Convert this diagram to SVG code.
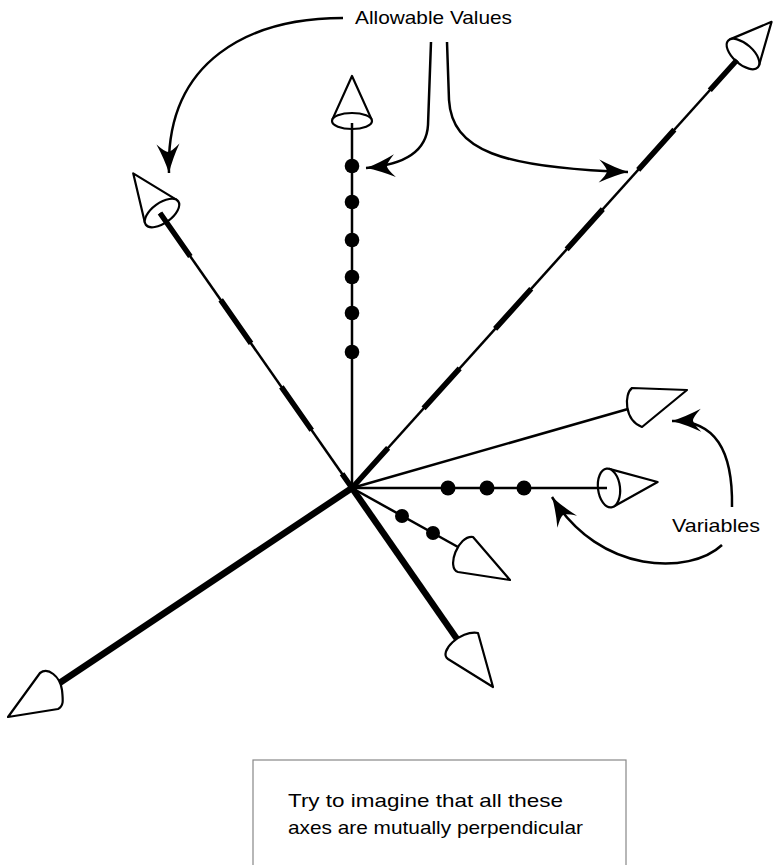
<svg xmlns="http://www.w3.org/2000/svg" width="773" height="865" viewBox="0 0 773 865">
<style>
.cone{fill:#fff;stroke:#000;stroke-width:2.2;stroke-linejoin:round}
.thin{fill:none;stroke:#000;stroke-width:2.5;stroke-linecap:butt}
.thick{fill:none;stroke:#000;stroke-width:6.5;stroke-linecap:butt}
.dash{fill:none;stroke:#000;stroke-width:5.5}
.dot{fill:#000}
.curve{fill:none;stroke:#000;stroke-width:2.5;marker-end:url(#ah)}
.lbl{font-family:"Liberation Sans",Arial,sans-serif;font-size:19px;fill:#000}
</style>
<defs>
<marker id="ah" markerUnits="userSpaceOnUse" markerWidth="36" markerHeight="30" viewBox="-32 -15 34 30" refX="0" refY="0" orient="auto">
<path d="M0,0 Q-14,-4 -29,-11.5 Q-21,-3 -21,0 Q-21,3 -29,11.5 Q-14,4 0,0 Z" fill="#000"/>
</marker>
</defs>
<rect width="773" height="865" fill="#fff"/>

<g id="axis-up">
<g transform="translate(352,121)">
<path class="cone" d="M-19.7,-1.4 L0,-45 L19.7,-1.4"/>
<ellipse class="cone" cx="0" cy="0" rx="20" ry="8"/>
</g>
<line class="thin" x1="352" y1="488" x2="352" y2="123"/>
<circle class="dot" cx="352" cy="166" r="7.3"/>
<circle class="dot" cx="352" cy="202" r="7.3"/>
<circle class="dot" cx="352" cy="240" r="7.3"/>
<circle class="dot" cx="352" cy="277" r="7.3"/>
<circle class="dot" cx="352" cy="313" r="7.3"/>
<circle class="dot" cx="352" cy="352" r="7.3"/>
</g>

<g id="axis-upper-left">
<g transform="translate(162,213) rotate(-36)">
<path class="cone" d="M-19.6,-2 L0,-49 L19.6,-2"/>
<ellipse class="cone" cx="0" cy="0" rx="20" ry="10"/>
</g>
<line class="thin" x1="352" y1="488" x2="160" y2="213"/>
<path class="dash" d="M160,213 L352,488" stroke-dasharray="53 53"/>
</g>

<g id="axis-upper-right">
<g transform="translate(743,54) rotate(41.6)">
<path class="cone" d="M-19.45,-2.3 L0,-43 L19.45,-2.3"/>
<ellipse class="cone" cx="0" cy="0" rx="20" ry="10"/>
</g>
<line class="thin" x1="352" y1="488" x2="737" y2="60"/>
<path class="dash" d="M352,488 L737,60" stroke-dasharray="54 53"/>
</g>

<g id="axis-horizontal">
<g transform="translate(609,488) rotate(83)">
<path class="cone" d="M-19,-2.5 L0,-49 L19,-2.5"/>
<ellipse class="cone" cx="0" cy="0" rx="19.5" ry="11"/>
</g>
<line class="thin" x1="352" y1="488" x2="607" y2="488"/>
<circle class="dot" cx="448" cy="488" r="7.5"/>
<circle class="dot" cx="487" cy="488" r="7.5"/>
<circle class="dot" cx="524" cy="488" r="7.5"/>
</g>

<g id="axis-shallow">
<line class="thin" x1="352" y1="488" x2="628" y2="409"/>
<path class="cone" d="M687,390 L632,388 C624,394 624,420 642,427 Z"/>
</g>

<g id="axis-lower-dotted">
<line class="thin" x1="352" y1="488" x2="458" y2="547"/>
<path class="cone" d="M510,580 L473,537 C458,535 446,568 458,572 Z"/>
<circle class="dot" cx="402" cy="516" r="7"/>
<circle class="dot" cx="433" cy="533" r="7"/>
</g>

<g id="axis-lower-thick">
<line class="thick" x1="352" y1="488" x2="457" y2="639"/>
<path class="cone" d="M493,687 L478,633 C460,630 438,652 448,659 Z"/>
</g>

<g id="axis-bottom-left">
<line class="thick" x1="352" y1="488" x2="58" y2="684"/>
<path class="cone" d="M8,717 L40,673 C48,667 60,676 62,690 C63,700 64,706 58,709 Z"/>
</g>

<g id="connectors">
<path class="curve" d="M343,18 C250,18 165,60 169,173"/>
<path class="curve" d="M431,42 L428,125 Q426,163 366,168"/>
<path class="curve" d="M447,42 L449,100 C452,150 500,168 628,172"/>
<path class="curve" d="M732,507 C733,450 715,420 672,421"/>
<path class="curve" d="M722,545 C690,575 600,575 552,497"/>
</g>

<g id="label-allowable">
<text class="lbl" x="355" y="24" textLength="157" lengthAdjust="spacingAndGlyphs">Allowable Values</text>
</g>
<g id="label-variables">
<text class="lbl" x="672" y="532" textLength="88" lengthAdjust="spacingAndGlyphs">Variables</text>
</g>
<g id="note">
<rect x="253" y="760" width="373" height="115" fill="none" stroke="#888" stroke-width="1.2"/>
<text class="lbl" x="288" y="807" textLength="275" lengthAdjust="spacingAndGlyphs">Try to imagine that all these</text>
<text class="lbl" x="288" y="834" textLength="295" lengthAdjust="spacingAndGlyphs">axes are mutually perpendicular</text>
</g>
</svg>
